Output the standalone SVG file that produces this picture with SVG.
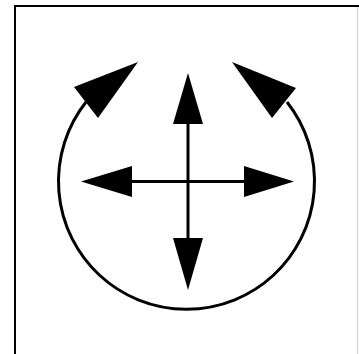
<svg xmlns="http://www.w3.org/2000/svg" width="359" height="354" viewBox="0 0 359 354">
<style>
.ln{fill:none;stroke:#000;stroke-width:3}
.hd{fill:#000;stroke:none}
</style>
<rect x="0" y="0" width="359" height="354" fill="#fff"/>
<g id="frame">
<line x1="357.5" y1="7" x2="357.5" y2="354" stroke="#ccc" stroke-width="1"/>
<path d="M15 354 V6 H359" fill="none" stroke="#000" stroke-width="2"/>
</g>
<g id="connectors">
<path class="ln" d="M86 102 A128 128 0 1 0 287 102"/>
<line class="ln" x1="188" y1="120" x2="188" y2="242"/>
<line class="ln" x1="128" y1="181.5" x2="248" y2="181.5"/>
</g>
<g id="arrow-arc-left"><polygon class="hd" points="138,62 74,87 98,118"/></g>
<g id="arrow-arc-right"><polygon class="hd" points="232,62 296,88 272,118"/></g>
<g id="arrow-up"><polygon class="hd" points="188,73 173,124 203,124"/></g>
<g id="arrow-down"><polygon class="hd" points="188,290 173,238 203,238"/></g>
<g id="arrow-left"><polygon class="hd" points="81,181.5 132,166 132,197"/></g>
<g id="arrow-right"><polygon class="hd" points="294,181.5 244,166 244,197"/></g>
</svg>
